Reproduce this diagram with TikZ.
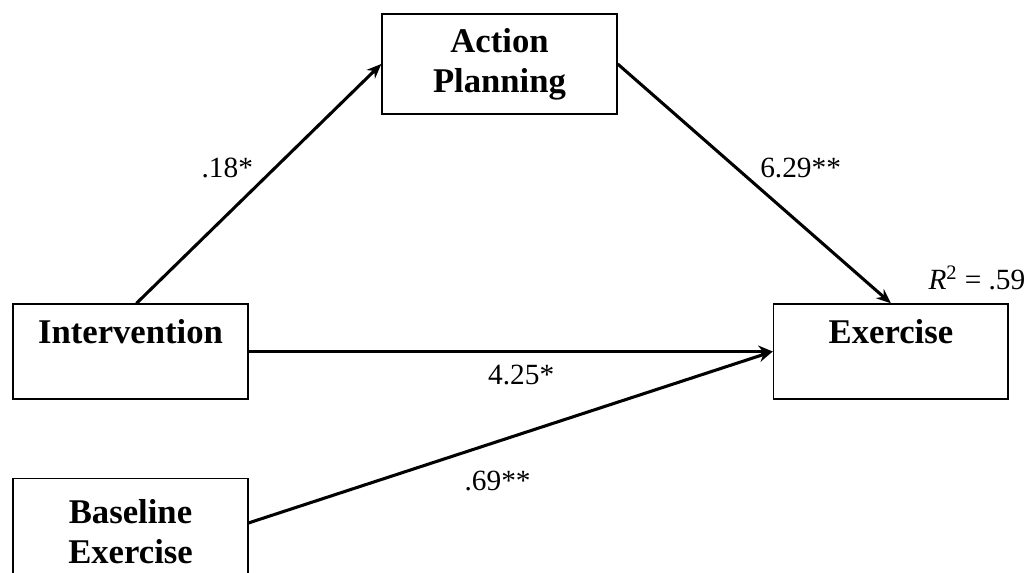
\documentclass[tikz,border=0pt]{standalone}
\usepackage{fontspec}
\setmainfont{Liberation Serif}
\usetikzlibrary{positioning, arrows.meta}

\begin{document}
\begin{tikzpicture}[x=0.75pt, y=-0.75pt, varbox/.style={rectangle, draw, line width=1.3pt, minimum width=176pt, minimum height=71pt, align=center, font=\bfseries\fontsize{26}{30}\selectfont}, path/.style={-{Stealth[length=11pt, width=9pt]}, line width=2.3pt}, lbl/.style={font=\fontsize{22}{26}\selectfont}]
            \useasboundingbox (0,0) rectangle (1028,573);
            % mediator
            \node[varbox, minimum height=75pt] (ap) at (499.5,64) {Action\\Planning};
            % predictors and outcome
            \node[varbox] (int) at (130.5,351.5) {Intervention\\\mbox{}};
            \node[varbox, right=393pt of int] (ex) {Exercise\\\mbox{}};
            \node[varbox, minimum height=80pt, below=58.5pt of int] (base) {Baseline\\Exercise};
            \node[lbl, anchor=base east] (rsq) at (1030,290) {\textit{R}\textsuperscript{2} = .59};
            % paths
            \draw[path] ([xshift=4.5pt]int.north)--(ap.west) node[lbl, midway, above left]{.18*};
            \draw[path] (ap.east)--(ex.north) node[lbl, midway, above right]{6.29**};
            \draw[path] (int.east)--(ex.west) node[lbl, pos=0.52, below=6pt]{4.25*};
            \draw[path] ([yshift=6.75pt]base.east)--(ex.west) node[lbl, pos=0.475, below=18pt]{.69**};
        \end{tikzpicture}
\end{document}
